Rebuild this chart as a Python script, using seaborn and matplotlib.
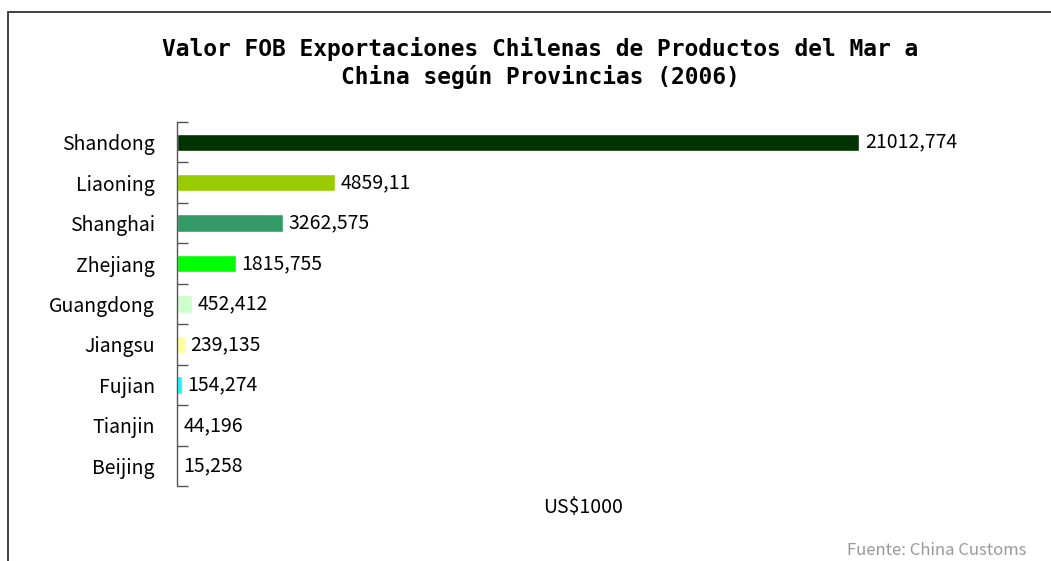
import matplotlib
matplotlib.use("Agg")
import matplotlib.pyplot as plt
import matplotlib.patches as mpatches
import pandas as pd
import seaborn as sns

provincias = ["Shandong", "Liaoning", "Shanghai", "Zhejiang", "Guangdong",
              "Jiangsu", "Fujian", "Tianjin", "Beijing"]
valores = [21012.774, 4859.11, 3262.575, 1815.755, 452.412,
           239.135, 154.274, 44.196, 15.258]
etiquetas = ["21012,774", "4859,11", "3262,575", "1815,755", "452,412",
             "239,135", "154,274", "44,196", "15,258"]
colores = ["#003300", "#99CC00", "#339966", "#00FF00", "#CCFFCC",
           "#FFFF99", "#00FFFF", "#FF99CC", "#CC99FF"]

df = pd.DataFrame({"provincia": provincias, "valor": valores})

sns.set_theme(style="white")
plt.rcParams["font.family"] = ["Noto Sans CJK JP", "DejaVu Sans"]

fig = plt.figure(figsize=(10.51, 5.61), dpi=100)
ax = fig.add_axes([0.1684, 0.1337, 0.7726, 0.6488])

sns.barplot(data=df, y="provincia", x="valor", hue="provincia",
            palette=colores, orient="h", width=0.43, saturation=1,
            legend=False, ax=ax)

for i, (v, t) in enumerate(zip(valores, etiquetas)):
    ax.text(v + 170, i, t, va="center", ha="left", fontsize=14, color="black")

ax.set_xlim(0, 25000)
ax.set_ylim(len(provincias) - 0.5, -0.5)
ax.set_xticks([])
ax.set_ylabel("")
ax.set_xlabel("US$1000", fontsize=14, color="black", labelpad=8)
for s in ["top", "right", "bottom"]:
    ax.spines[s].set_visible(False)
ax.spines["left"].set_color("#555555")
ax.spines["left"].set_linewidth(1.0)
ax.tick_params(axis="y", which="major", left=False, labelsize=14,
               labelcolor="black", pad=10)
ax.set_yticks([i - 0.5 for i in range(len(provincias) + 1)], minor=True)
ax.tick_params(axis="y", which="minor", left=True, direction="in", length=8,
               color="#555555", width=1.0)

fig.text(0.514, 0.888,
         "Valor FOB Exportaciones Chilenas de Productos del Mar a\nChina según Provincias (2006)",
         ha="center", va="center", fontsize=16.5, fontweight="bold",
         family="DejaVu Sans Mono", linespacing=1.2, color="black")
fig.text(0.977, 0.003, "Fuente: China Customs", ha="right", va="bottom",
         fontsize=12, color="#999999")

borde = mpatches.Rectangle((8 / 1051, -0.2), 1.2, 1.2 - 12 / 561,
                           transform=fig.transFigure, fill=False,
                           edgecolor="#333333", linewidth=1.3)
fig.patches.append(borde)

fig.savefig("out.png", dpi=100)
